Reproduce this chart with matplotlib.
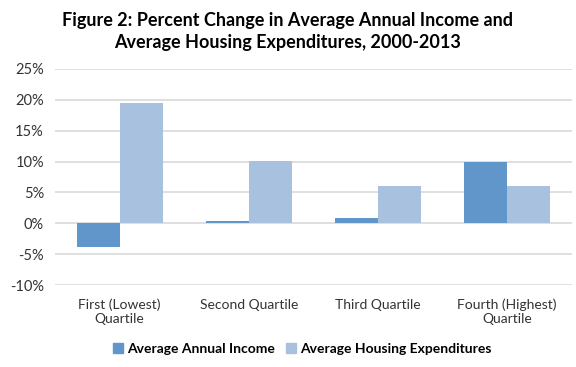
import matplotlib
matplotlib.use("Agg")
import numpy as np
import matplotlib.pyplot as plt
from matplotlib.patches import Patch

# ---------------------------
# data (percent change, 2000-2013)
# ---------------------------
categories = ["First (Lowest)\nQuartile", "Second Quartile", "Third Quartile", "Fourth (Highest)\nQuartile"]
income = [-3.9, 0.3, 0.9, 10.0]
housing = [19.5, 10.1, 6.1, 6.1]
yticks = [-10, -5, 0, 5, 10, 15, 20, 25]

c_income = "#6096C9"
c_housing = "#A7C1DF"

plt.rcParams["font.family"] = ["Lato", "DejaVu Sans"]

fig = plt.figure(figsize=(5.76, 3.67), dpi=100)
ax = fig.add_axes([0.0955, 0.2234, 0.897, 0.5886])

x = np.arange(len(categories))
w = 1 / 3
ax.bar(x - w / 2, income, width=w, color=c_income, zorder=3)
ax.bar(x + w / 2, housing, width=w, color=c_housing, zorder=3)

ax.set_xlim(-0.5, len(categories) - 0.5)
ax.set_ylim(-10, 25)
ax.set_yticks(yticks)
ax.set_yticklabels([f"{t}%" for t in yticks], fontsize=10.5, color="#333333")
ax.set_xticks(x)
ax.set_xticklabels(categories, fontsize=10, color="#333333", linespacing=1.15)
ax.tick_params(length=0, pad=8)
ax.tick_params(axis="x", pad=10)
ax.yaxis.grid(True, color="#D9D9D9", linewidth=1.2, zorder=0)
for s in ax.spines.values():
    s.set_visible(False)

fig.text(0.5, 0.913, "Figure 2: Percent Change in Average Annual Income and\nAverage Housing Expenditures, 2000-2013",
         ha="center", va="center", fontsize=13, fontweight="bold", linespacing=1.35)

handles = [Patch(color=c_income, label="Average Annual Income"),
           Patch(color=c_housing, label="Average Housing Expenditures")]
fig.legend(handles=handles, loc="center", bbox_to_anchor=(0.525, 0.05), ncol=2, frameon=False,
           prop={"weight": "bold", "size": 10}, handlelength=0.7, handleheight=0.7,
           handletextpad=0.3, columnspacing=0.8)

fig.savefig("out.png", dpi=100)
